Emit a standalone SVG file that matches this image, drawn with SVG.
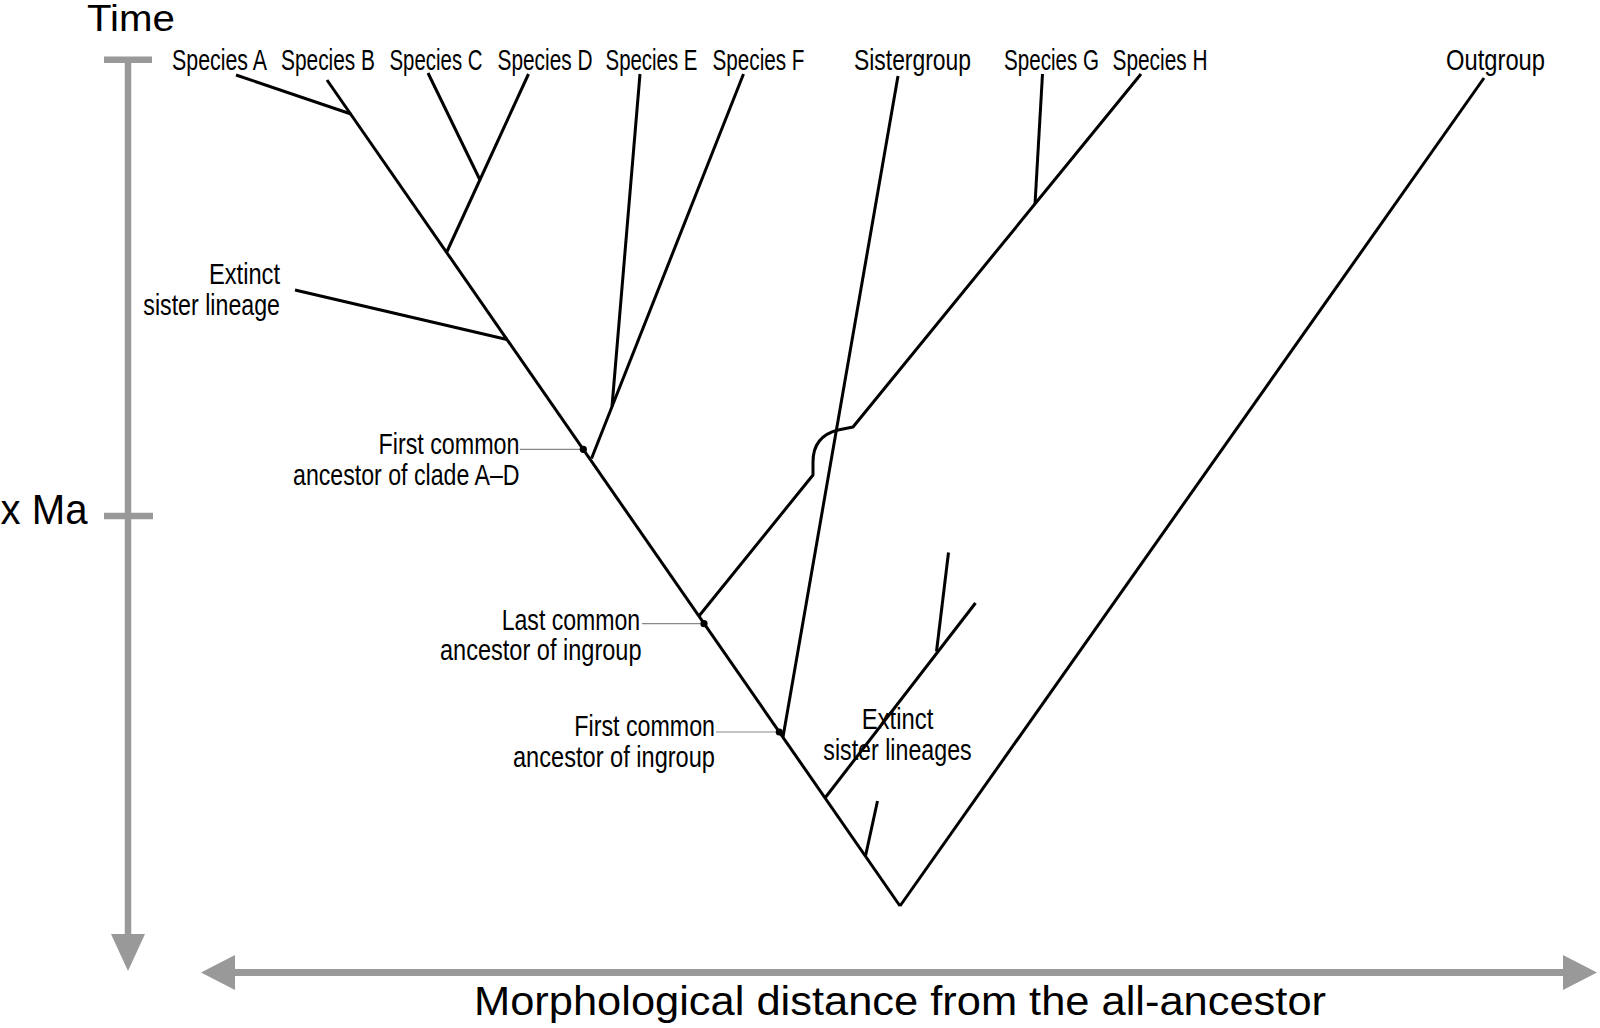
<svg xmlns="http://www.w3.org/2000/svg" width="1600" height="1028" viewBox="0 0 1600 1028">
<style>
.lbl{font-family:"Liberation Sans Narrow","Liberation Sans",Arial,sans-serif;font-size:30px;fill:#000}
.axt{font-family:"Liberation Sans",Arial,sans-serif;fill:#000}
.br{fill:none;stroke:#000;stroke-width:3;stroke-linecap:butt;stroke-linejoin:round}
.ax{fill:none;stroke:#999;stroke-width:6.5}
.axh{fill:#999}
.lead{stroke:#888;stroke-width:1.2;fill:none}
.dot{fill:#000}
</style>
<rect width="1600" height="1028" fill="#fff"/>
<g id="axes">
  <line class="ax" x1="128" y1="57" x2="128" y2="940"/>
  <line class="ax" x1="104" y1="59.7" x2="152" y2="59.7"/>
  <line class="ax" x1="104" y1="516" x2="153" y2="516"/>
  <polygon class="axh" points="111,934 145,934 128,971"/>
  <line class="ax" x1="228" y1="972.5" x2="1570" y2="972.5" style="stroke-width:7"/>
  <polygon class="axh" points="201,972.5 235,955 235,990"/>
  <polygon class="axh" points="1597,972.5 1563,955 1563,990"/>
  <text class="axt" x="87" y="31" font-size="36" textLength="88" lengthAdjust="spacingAndGlyphs">Time</text>
  <text class="axt" x="0.5" y="524" font-size="43" textLength="87" lengthAdjust="spacingAndGlyphs">x Ma</text>
  <text class="axt" x="474" y="1015" font-size="40" textLength="852" lengthAdjust="spacingAndGlyphs">Morphological distance from the all-ancestor</text>
</g>
<g id="connectors">
  <line class="br" x1="900" y1="906" x2="327" y2="80"/>
  <line class="br" x1="236" y1="75" x2="351" y2="114"/>
  <line class="br" x1="428" y1="73" x2="480" y2="180"/>
  <line class="br" x1="528.5" y1="74" x2="447" y2="251.5"/>
  <line class="br" x1="295" y1="290" x2="507" y2="339.5"/>
  <line class="br" x1="640" y1="74" x2="612" y2="406.5"/>
  <line class="br" x1="743.5" y1="74" x2="591.5" y2="458.5"/>
  <line class="br" x1="898" y1="76" x2="783" y2="737"/>
  <line class="br" x1="1042.5" y1="74" x2="1035" y2="204"/>
  <path class="br" d="M1141,74 L853,427 L838,430 C822,434 813,444 813,462 L813,475 L699,616"/>
  <line class="br" x1="900" y1="906" x2="1484" y2="78"/>
  <line class="br" x1="825" y1="798" x2="975.5" y2="603"/>
  <line class="br" x1="936.5" y1="651.5" x2="948.5" y2="552.5"/>
  <line class="br" x1="865.5" y1="856" x2="877.5" y2="801"/>
  <line class="lead" x1="520" y1="449.3" x2="580" y2="449.3"/>
  <line class="lead" x1="642" y1="623.7" x2="701" y2="623.7"/>
  <line class="lead" x1="716" y1="732" x2="776" y2="732"/>
</g>
<g id="node-dots">
  <circle class="dot" cx="583.3" cy="449.3" r="3.6"/>
  <circle class="dot" cx="704" cy="623.7" r="3.6"/>
  <circle class="dot" cx="779.3" cy="732" r="3.6"/>
</g>
<g id="species-a"><text class="lbl" x="172" y="70" textLength="95" lengthAdjust="spacingAndGlyphs">Species A</text></g>
<g id="species-b"><text class="lbl" x="281" y="70" textLength="94" lengthAdjust="spacingAndGlyphs">Species B</text></g>
<g id="species-c"><text class="lbl" x="389.5" y="70" textLength="93" lengthAdjust="spacingAndGlyphs">Species C</text></g>
<g id="species-d"><text class="lbl" x="497.5" y="70" textLength="95" lengthAdjust="spacingAndGlyphs">Species D</text></g>
<g id="species-e"><text class="lbl" x="605.5" y="70" textLength="92" lengthAdjust="spacingAndGlyphs">Species E</text></g>
<g id="species-f"><text class="lbl" x="712.5" y="70" textLength="92" lengthAdjust="spacingAndGlyphs">Species F</text></g>
<g id="sistergroup"><text class="lbl" x="854" y="70" textLength="117" lengthAdjust="spacingAndGlyphs">Sistergroup</text></g>
<g id="species-g"><text class="lbl" x="1004" y="70" textLength="95" lengthAdjust="spacingAndGlyphs">Species G</text></g>
<g id="species-h"><text class="lbl" x="1112.5" y="70" textLength="95" lengthAdjust="spacingAndGlyphs">Species H</text></g>
<g id="outgroup"><text class="lbl" x="1446" y="70" textLength="99" lengthAdjust="spacingAndGlyphs">Outgroup</text></g>
<g id="extinct-sister-lineage">
  <text class="lbl" x="209" y="283.5" textLength="71" lengthAdjust="spacingAndGlyphs">Extinct</text>
  <text class="lbl" x="143.3" y="314.5" textLength="136.7" lengthAdjust="spacingAndGlyphs">sister lineage</text>
</g>
<g id="first-common-ancestor-clade">
  <text class="lbl" x="378.5" y="453.5" textLength="141" lengthAdjust="spacingAndGlyphs">First common</text>
  <text class="lbl" x="293" y="485" textLength="226.5" lengthAdjust="spacingAndGlyphs">ancestor of clade A–D</text>
</g>
<g id="last-common-ancestor-ingroup">
  <text class="lbl" x="501.7" y="629.5" textLength="138.5" lengthAdjust="spacingAndGlyphs">Last common</text>
  <text class="lbl" x="440" y="660" textLength="201.5" lengthAdjust="spacingAndGlyphs">ancestor of ingroup</text>
</g>
<g id="first-common-ancestor-ingroup">
  <text class="lbl" x="574.3" y="736" textLength="140.7" lengthAdjust="spacingAndGlyphs">First common</text>
  <text class="lbl" x="513" y="767" textLength="202" lengthAdjust="spacingAndGlyphs">ancestor of ingroup</text>
</g>
<g id="extinct-sister-lineages">
  <text class="lbl" x="861.7" y="729" textLength="71.6" lengthAdjust="spacingAndGlyphs">Extinct</text>
  <text class="lbl" x="823.3" y="760" textLength="148.4" lengthAdjust="spacingAndGlyphs">sister lineages</text>
</g>
</svg>
